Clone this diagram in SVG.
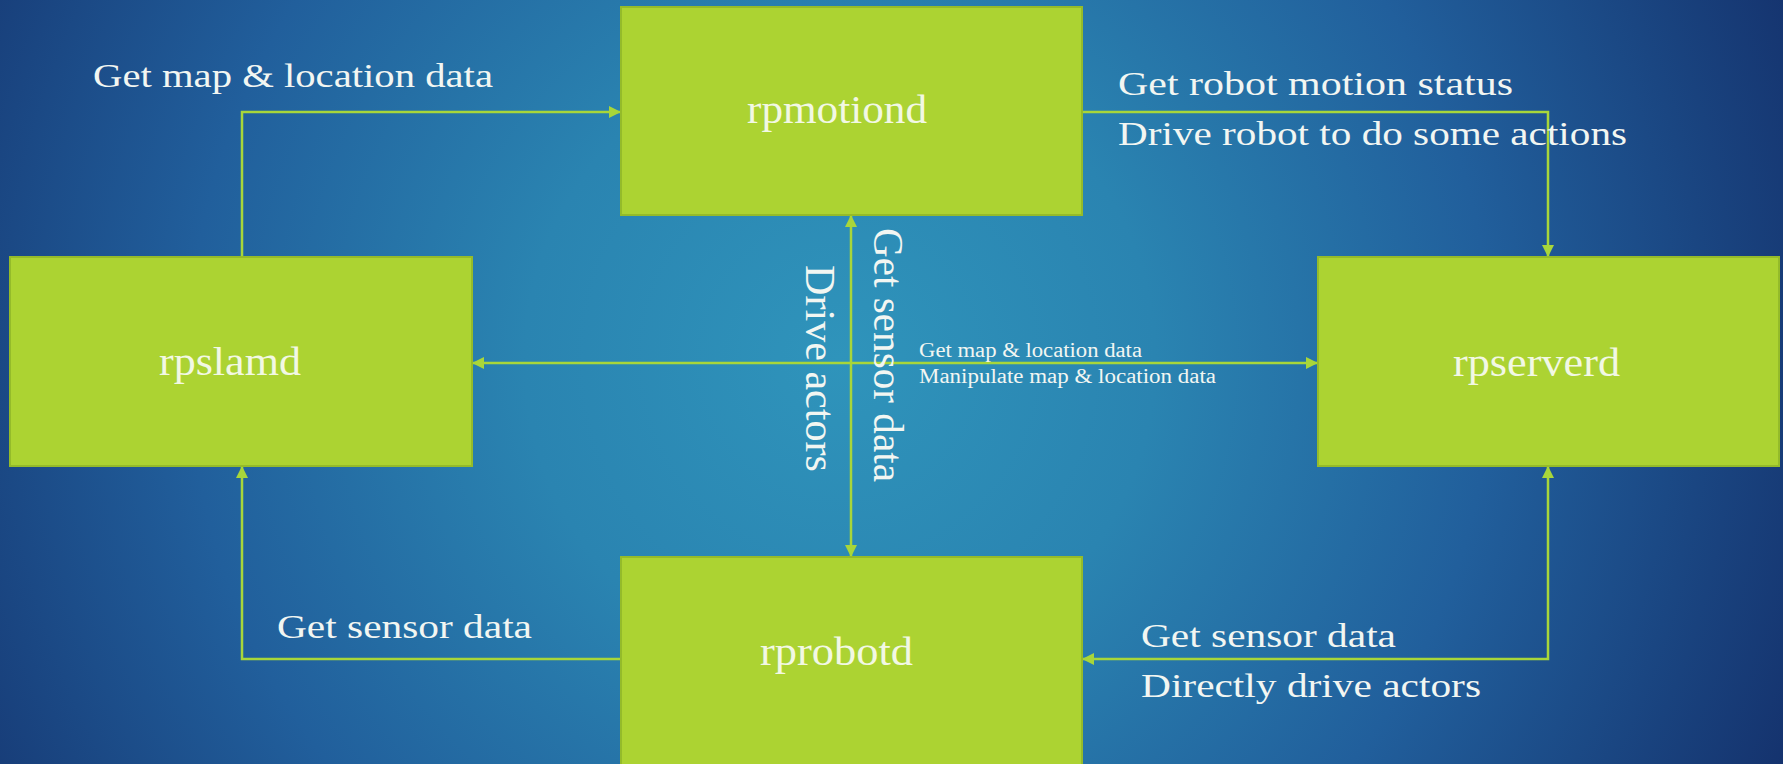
<svg xmlns="http://www.w3.org/2000/svg" width="1783" height="764" viewBox="0 0 1783 764">
  <defs>
    <radialGradient id="bg" gradientUnits="userSpaceOnUse" cx="840" cy="360" r="1050">
      <stop offset="0" stop-color="#2f94bb"/>
      <stop offset="0.3" stop-color="#2a84b1"/>
      <stop offset="0.62" stop-color="#215f9c"/>
      <stop offset="1" stop-color="#14306b"/>
    </radialGradient>
    <marker id="arrow" viewBox="0 0 10 10" refX="10" refY="5" markerWidth="13" markerHeight="12" markerUnits="userSpaceOnUse" orient="auto-start-reverse">
      <path d="M0,0 L10,5 L0,10 z" fill="#a8d63a"/>
    </marker>
    <style>
      .box { fill: #acd332; stroke: #94bb2a; stroke-width: 2; }
      .name { font-family: "Liberation Serif", serif; font-size: 41px; fill: #f2f8e4; }
      .lbl { font-family: "Liberation Serif", serif; font-size: 34px; fill: #f2f6f2; }
      .small { font-family: "Liberation Serif", serif; font-size: 20px; fill: #f2f6f2; }
      .vlbl { font-family: "Liberation Serif", serif; font-size: 42px; fill: #f2f6f2; }
      .link { fill: none; stroke: #a8d63a; stroke-width: 2.5; }
    </style>
  </defs>

  <rect x="0" y="0" width="1783" height="764" fill="url(#bg)"/>

  <!-- connectors -->
  <g id="connectors">
    <path class="link" d="M242,257 V112 H621" marker-end="url(#arrow)"/>
    <path class="link" d="M1082,112 H1548 V257" marker-end="url(#arrow)"/>
    <path class="link" d="M472,363 H1318" marker-start="url(#arrow)" marker-end="url(#arrow)"/>
    <path class="link" d="M851,215 V557" marker-start="url(#arrow)" marker-end="url(#arrow)"/>
    <path class="link" d="M621,659 H242 V466" marker-end="url(#arrow)"/>
    <path class="link" d="M1548,466 V659 H1082" marker-start="url(#arrow)" marker-end="url(#arrow)"/>
  </g>

  <!-- connector labels -->
  <g id="labels">
    <text class="lbl" x="93" y="87" textLength="400" lengthAdjust="spacingAndGlyphs">Get map &amp; location data</text>
    <text class="lbl" x="1118" y="95" textLength="395" lengthAdjust="spacingAndGlyphs">Get robot motion status</text>
    <text class="lbl" x="1118" y="145" textLength="509" lengthAdjust="spacingAndGlyphs">Drive robot to do some actions</text>
    <text class="small" x="919" y="357" textLength="223" lengthAdjust="spacingAndGlyphs">Get map &amp; location data</text>
    <text class="small" x="919" y="383" textLength="297" lengthAdjust="spacingAndGlyphs">Manipulate map &amp; location data</text>
    <text class="vlbl" transform="translate(874,228) rotate(90)" x="0" y="0" textLength="254" lengthAdjust="spacingAndGlyphs">Get sensor data</text>
    <text class="vlbl" transform="translate(806,265) rotate(90)" x="0" y="0" textLength="207" lengthAdjust="spacingAndGlyphs">Drive actors</text>
    <text class="lbl" x="277" y="638" textLength="255" lengthAdjust="spacingAndGlyphs">Get sensor data</text>
    <text class="lbl" x="1141" y="647" textLength="255" lengthAdjust="spacingAndGlyphs">Get sensor data</text>
    <text class="lbl" x="1141" y="697" textLength="340" lengthAdjust="spacingAndGlyphs">Directly drive actors</text>
  </g>

  <!-- nodes -->
  <g id="rpmotiond">
    <rect class="box" x="621" y="7" width="461" height="208"/>
    <text class="name" x="747" y="123" textLength="180" lengthAdjust="spacingAndGlyphs">rpmotiond</text>
  </g>
  <g id="rpslamd">
    <rect class="box" x="10" y="257" width="462" height="209"/>
    <text class="name" x="159" y="375" textLength="142" lengthAdjust="spacingAndGlyphs">rpslamd</text>
  </g>
  <g id="rpserverd">
    <rect class="box" x="1318" y="257" width="461" height="209"/>
    <text class="name" x="1453" y="376" textLength="167" lengthAdjust="spacingAndGlyphs">rpserverd</text>
  </g>
  <g id="rprobotd">
    <rect class="box" x="621" y="557" width="461" height="215"/>
    <text class="name" x="760" y="665" textLength="153" lengthAdjust="spacingAndGlyphs">rprobotd</text>
  </g>
</svg>
